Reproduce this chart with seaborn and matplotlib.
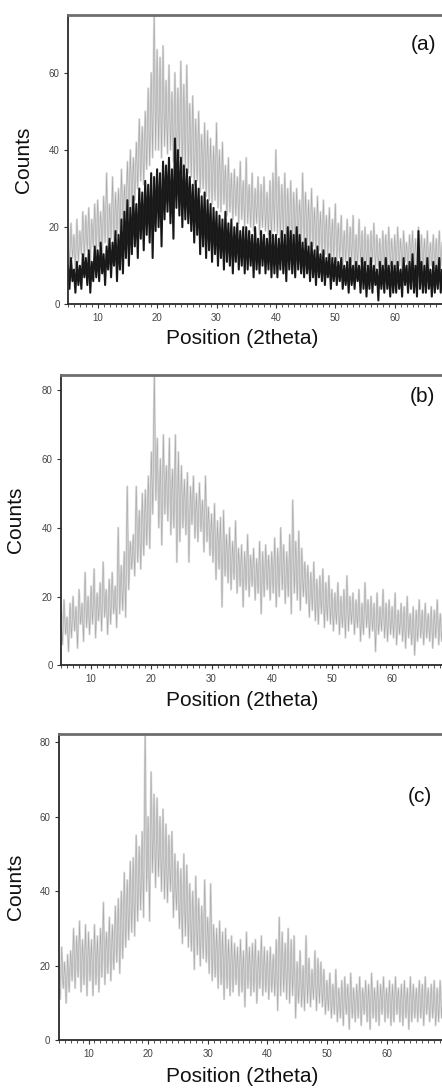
import numpy as np
import pandas as pd
import seaborn as sns
import matplotlib.pyplot as plt
from matplotlib.ticker import MultipleLocator

# --- data: upper / lower edge of each noisy pattern ---
# "hi" points sit at 5.0, 5.5, ... 70.0 ; "lo" points at 5.25, 5.75, ... 70.25
a_light_hi = [20, 21, 18, 22, 19, 24, 23, 25, 22, 26,
              27, 24, 28, 34, 26, 33, 29, 30, 35, 31,
              37, 40, 38, 42, 48, 46, 50, 56, 60, 75,
              66, 64, 67, 58, 62, 55, 60, 56, 63, 57,
              62, 52, 54, 48, 50, 44, 47, 45, 43, 41,
              47, 40, 42, 36, 38, 34, 35, 33, 37, 32,
              38, 31, 34, 30, 33, 31, 33, 29, 32, 34,
              40, 33, 31, 34, 30, 32, 29, 30, 27, 34,
              29, 27, 30, 25, 28, 24, 27, 23, 25, 22,
              26, 21, 23, 19, 22, 20, 23, 18, 22, 19,
              20, 18, 19, 21, 18, 17, 19, 18, 20, 17,
              18, 20, 17, 19, 16, 18, 19, 17, 20, 18,
              17, 19, 16, 18, 17, 19, 16, 18, 17, 18,
              17]
a_light_lo = [10, 12, 9, 11, 13, 12, 14, 11, 15, 13,
              15, 13, 16, 14, 17, 15, 18, 17, 20, 22,
              23, 25, 27, 30, 32, 31, 35, 36, 38, 40,
              40, 38, 41, 39, 40, 37, 36, 38, 34, 35,
              34, 33, 31, 32, 29, 30, 28, 27, 26, 27,
              25, 24, 26, 23, 24, 22, 23, 21, 22, 20,
              21, 20, 19, 21, 18, 20, 19, 18, 17, 19,
              18, 17, 18, 16, 17, 15, 16, 17, 15, 16,
              15, 14, 15, 13, 14, 12, 13, 12, 11, 12,
              11, 12, 10, 11, 10, 11, 9, 10, 11, 9,
              10, 9, 11, 9, 10, 8, 10, 9, 10, 8,
              9, 10, 8, 11, 9, 10, 8, 9, 10, 9,
              9, 8, 10, 9, 8, 10, 9, 8, 9, 10,
              9]
a_dark_hi = [10, 12, 9, 11, 10, 13, 12, 14, 11, 15,
             14, 16, 13, 15, 17, 16, 19, 18, 22, 24,
             27, 25, 28, 26, 30, 29, 32, 31, 34, 33,
             35, 34, 37, 36, 38, 35, 43, 40, 38, 36,
             35, 33, 31, 32, 30, 28, 29, 27, 26, 25,
             24, 23, 22, 24, 21, 22, 20, 21, 19, 20,
             20, 19, 18, 20, 17, 19, 18, 17, 19, 18,
             18, 17, 19, 18, 20, 19, 18, 20, 18, 16,
             17, 15, 16, 14, 15, 13, 14, 12, 13, 12,
             12, 11, 12, 10, 11, 12, 10, 11, 10, 12,
             11, 10, 12, 10, 9, 11, 10, 12, 10, 11,
             10, 11, 9, 12, 10, 11, 13, 10, 19, 11,
             10, 12, 9, 11, 10, 12, 9, 11, 10, 11,
             10]
a_dark_lo = [4, 6, 3, 5, 4, 7, 5, 3, 6, 7,
             6, 8, 5, 9, 7, 10, 6, 9, 8, 12,
             10, 13, 15, 12, 17, 14, 18, 16, 12, 19,
             20, 15, 22, 24, 21, 17, 25, 23, 20, 22,
             21, 19, 16, 18, 13, 15, 12, 14, 11, 13,
             10, 12, 9, 11, 10, 8, 11, 9, 10, 8,
             9, 10, 7, 9, 8, 10, 8, 9, 7, 8,
             7, 9, 8, 6, 9, 8, 7, 9, 8, 7,
             8, 6, 7, 5, 7, 6, 5, 7, 4, 6,
             5, 6, 4, 5, 3, 5, 4, 6, 3, 4,
             2, 4, 3, 5, 1, 4, 3, 4, 2, 3,
             3, 4, 2, 5, 3, 4, 3, 2, 4, 3,
             3, 4, 2, 3, 4, 3, 2, 4, 3, 3,
             3]

b_hi = [16, 19, 14, 18, 20, 17, 22, 18, 27, 20,
        23, 28, 21, 24, 30, 22, 25, 27, 23, 40,
        29, 33, 52, 36, 38, 52, 45, 50, 51, 55,
        62, 85, 66, 60, 67, 58, 66, 57, 67, 62,
        58, 54, 56, 52, 55, 50, 53, 48, 55, 46,
        44, 47, 42, 43, 45, 38, 40, 36, 42, 34,
        35, 33, 38, 32, 34, 31, 36, 33, 35, 32,
        33, 37, 34, 40, 35, 33, 38, 48, 36, 39,
        34, 30, 29, 27, 30, 25, 26, 28, 24, 26,
        22, 21, 24, 20, 22, 26, 20, 21, 19, 22,
        18, 24, 19, 20, 18, 21, 17, 22, 18, 19,
        17, 21, 16, 18, 17, 20, 15, 17, 16, 19,
        16, 18, 15, 17, 16, 19, 15, 17, 16, 18,
        16]
b_lo = [6, 9, 4, 8, 10, 5, 12, 7, 11, 9,
        12, 8, 13, 10, 14, 9, 12, 15, 11, 15,
        16, 14, 22, 28, 26, 30, 28, 32, 35, 34,
        44, 48, 40, 35, 44, 42, 38, 40, 30, 36,
        40, 38, 30, 41, 37, 36, 39, 33, 36, 32,
        30, 25, 28, 17, 26, 24, 22, 25, 21, 23,
        17, 22, 20, 23, 19, 21, 15, 20, 22, 19,
        21, 17, 20, 22, 18, 20, 15, 21, 19, 16,
        20, 18, 14, 16, 13, 12, 15, 11, 13, 12,
        10, 12, 9, 11, 8, 10, 12, 9, 11, 7,
        9, 11, 8, 10, 4, 9, 10, 8, 7, 9,
        8, 6, 9, 7, 5, 8, 6, 3, 7, 8,
        6, 8, 7, 5, 8, 6, 7, 5, 8, 6,
        7]

c_hi = [22, 25, 21, 23, 24, 30, 28, 32, 27, 31,
        29, 27, 31, 28, 30, 37, 29, 33, 31, 36,
        38, 40, 45, 43, 48, 49, 55, 52, 56, 83,
        60, 72, 66, 65, 60, 62, 58, 55, 56, 50,
        48, 46, 50, 47, 42, 40, 44, 38, 36, 43,
        33, 42, 31, 30, 32, 29, 30, 27, 28, 26,
        25, 27, 24, 29, 25, 26, 27, 24, 28, 25,
        24, 25, 23, 27, 33, 29, 26, 30, 27, 28,
        21, 24, 20, 28, 22, 19, 24, 22, 21, 19,
        16, 18, 15, 19, 14, 16, 17, 15, 18, 14,
        15, 17, 14, 16, 15, 18, 14, 16, 15, 17,
        14, 16, 15, 17, 14, 15, 16, 14, 17, 15,
        14, 16, 15, 17, 14, 15, 16, 14, 16, 15,
        15]
c_lo = [11, 14, 10, 13, 16, 14, 17, 13, 15, 12,
        16, 12, 15, 13, 17, 15, 18, 16, 19, 21,
        18, 22, 25, 27, 29, 28, 32, 35, 33, 40,
        32, 45, 41, 44, 40, 38, 37, 40, 33, 35,
        30, 26, 28, 25, 24, 19, 23, 20, 22, 21,
        18, 16, 17, 14, 15, 11, 14, 12, 13, 15,
        12, 13, 9, 14, 12, 13, 10, 14, 12, 13,
        11, 13, 12, 8, 12, 13, 11, 10, 12, 6,
        10, 9, 8, 10, 9, 11, 8, 10, 9, 7,
        8, 6, 7, 5, 6, 4, 7, 3, 6, 5,
        6, 4, 7, 5, 3, 6, 5, 4, 7, 5,
        6, 4, 5, 7, 5, 4, 6, 3, 5, 6,
        5, 6, 4, 7, 5, 6, 4, 5, 6, 5,
        5]

x_start = 5.0
x_step = 0.5


def make_trace(hi, lo):
    # zig-zag between the upper and lower edges
    n = len(hi)
    x = np.empty(2 * n)
    y = np.empty(2 * n)
    x[0::2] = x_start + x_step * np.arange(n)
    x[1::2] = x_start + x_step * np.arange(n) + x_step / 2
    y[0::2] = hi
    y[1::2] = lo
    return pd.DataFrame({"pos": x, "counts": y})


sns.set_style("ticks")
plt.rcParams['font.family'] = ['Liberation Sans', 'DejaVu Sans']

W, H = 442, 1088
fig = plt.figure(figsize=(W / 100, H / 100), dpi=100)

# axes boxes in pixels: left, top, bottom, px per degree
panels = [
    dict(left=68, top=15, bottom=304.3, ppd=5.94, ymax=75, yticks=[0, 20, 40, 60],
         tag="(a)", tagpos=(423, 45), xl=(0.451, -0.085), yl=-0.091),
    dict(left=61, top=375, bottom=665.3, ppd=6.02, ymax=84.4, yticks=[0, 20, 40, 60, 80],
         tag="(b)", tagpos=(422, 397), xl=(0.463, -0.088), yl=-0.092),
    dict(left=58.7, top=734, bottom=1040.3, ppd=5.96, ymax=82.2, yticks=[0, 20, 40, 60, 80],
         tag="(c)", tagpos=(420, 797), xl=(0.474, -0.086), yl=-0.087),
]
# (hi, lo, fill colour, edge colour)
light = ('#d6d6d6', '#a4a4a4')
dark = ('#1f1f1f', '#111111')
traces = [
    [(a_light_hi, a_light_lo) + light, (a_dark_hi, a_dark_lo) + dark],
    [(b_hi, b_lo) + light],
    [(c_hi, c_lo) + light],
]
x_min, x_max = 5, 70

for p, series in zip(panels, traces):
    width = p["ppd"] * (x_max - x_min)
    ax = fig.add_axes([p["left"] / W, 1 - p["bottom"] / H,
                       width / W, (p["bottom"] - p["top"]) / H])
    for hi, lo, fill_col, edge_col in series:
        df = make_trace(hi, lo)
        sns.lineplot(data=df, x="pos", y="counts", ax=ax, color=fill_col,
                     linewidth=1.5, estimator=None, sort=False)
        sns.lineplot(data=df, x="pos", y="counts", ax=ax, color=edge_col,
                     linewidth=0.35, estimator=None, sort=False)
    ax.set_xlim(x_min, x_max)
    ax.set_ylim(0, p["ymax"])
    ax.set_yticks(p["yticks"])
    ax.set_xticks([10, 20, 30, 40, 50, 60])
    ax.xaxis.set_minor_locator(MultipleLocator(1))
    ax.tick_params(axis='both', which='major', labelsize=7, length=3, width=0.8,
                   colors='#333333', labelcolor='#444444', pad=3)
    ax.tick_params(axis='x', which='minor', length=2, width=0.6, color='#333333')
    for s in ['left', 'bottom']:
        ax.spines[s].set_color('#2b2b2b')
        ax.spines[s].set_linewidth(1.3)
    ax.spines['top'].set_visible(True)
    ax.spines['top'].set_color('#6e6e6e')
    ax.spines['top'].set_linewidth(2.0)
    ax.spines['right'].set_visible(False)
    ax.set_xlabel("Position (2theta)", fontsize=15, color='#111111')
    ax.xaxis.set_label_coords(*p["xl"])
    ax.set_ylabel("Counts", fontsize=15, color='#111111')
    ax.yaxis.set_label_coords(p["yl"], 0.5)
    fig.text(p["tagpos"][0] / W, 1 - p["tagpos"][1] / H, p["tag"], fontsize=15,
             ha='center', va='center', color='#111111')

fig.savefig("out.png", dpi=100)
